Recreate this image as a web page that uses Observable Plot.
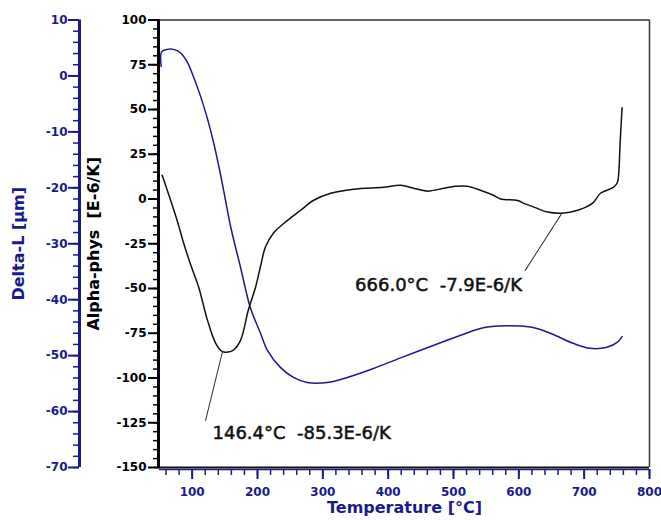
<!DOCTYPE html>
<html><head><meta charset="utf-8">
<script src="https://cdn.jsdelivr.net/npm/d3@7"></script>
<script src="https://cdn.jsdelivr.net/npm/@observablehq/plot@0.6"></script>
<style>
body{margin:0;background:#fff;}
</style></head><body><div id="chart"></div>
<script>
// Alpha-phys curve (black) — temperature [°C] and alpha [E-6/K]
const tempsAlpha = [54, 60, 67, 77, 87, 98, 110, 123.5, 136, 146.4, 155, 163, 174, 186, 197, 205, 212, 224.5, 246, 266, 286, 312, 347, 393, 419, 439, 460, 485, 503, 521, 541, 561, 572, 598, 607, 625, 644, 666, 690, 713, 725, 745, 751, 753, 755, 758];
const alphaValues = [13.3, 7, -0.7, -12, -24.7, -37, -49.3, -67.8, -80.6, -85.3, -85.5, -84.5, -79, -62, -49.3, -37, -27, -19, -11.9, -6.3, -0.7, 3.2, 5.5, 6.6, 7.7, 6, 4.4, 6, 7.1, 7.1, 4.9, 2.1, 0, -0.8, -2.3, -4.8, -7.3, -7.9, -6.3, -2.3, 3.2, 6.6, 9.4, 15, 31, 51];
// Delta-L curve (blue) — temperature [°C] and delta-L [µm]
const tempsDelta = [52.6, 53.2, 61.8, 71.4, 82, 92.4, 102, 113, 123, 133, 143, 151, 159, 174, 189, 204.6, 215, 235, 255, 276, 307, 337.5, 377.5, 419, 469, 510, 552, 618, 648, 683, 709, 735, 751, 758];
const deltaValues = [1.7, 4.3, 4.75, 4.75, 4.15, 2.5, -0.15, -3.7, -7.5, -12, -17.4, -22.2, -27, -34.2, -41.4, -46, -49, -52.1, -53.9, -54.8, -54.8, -53.9, -52.3, -50.4, -48.2, -46.4, -44.9, -44.9, -46, -47.8, -48.7, -48.5, -47.6, -46.6];
// axis ticks
const alphaTicks = [100, 75, 50, 25, 0, -25, -50, -75, -100, -125, -150];
const deltaTicks = [10, 0, -10, -20, -30, -40, -50, -60, -70];
const tempTicks = [100, 200, 300, 400, 500, 600, 700, 800];
// annotations
const annoTemps = [146.4, 666.0];
const annoAlpha = [-85.3, -7.9];
const annoLabels = ["146.4°C\u00a0\u00a0-85.3E-6/K", "666.0°C\u00a0\u00a0-7.9E-6/K"];
// titles
const xTitle = "Temperature [°C]";
const yTitleAlpha = "Alpha-phys\u00a0\u00a0[E-6/K]";
const yTitleDelta = "Delta-L [µm]";

const BLUE = "#1a1a8c";
const toAlpha = d => (d - 10) * 250 / 80 + 100;
const fromAlpha = a => Math.round((a - 100) * 80 / 250 + 10);

const alphaData = tempsAlpha.map((t, i) => ({t, v: alphaValues[i]}));
const deltaData = tempsDelta.map((t, i) => ({t, v: toAlpha(deltaValues[i])}));
const annos = annoTemps.map((t, i) => ({t, a: annoAlpha[i], label: annoLabels[i]}));

const lineShape = {draw(ctx, l) { ctx.moveTo(0, 0); ctx.lineTo(0, -l); }};
const font = "DejaVu Sans, sans-serif";

const plot = Plot.plot({
  width: 661, height: 520,
  marginLeft: 159, marginRight: 12, marginTop: 19.5, marginBottom: 53,
  style: {fontFamily: font, background: "white"},
  x: {domain: [50, 800]},
  y: {domain: [-150, 100]},
  marks: [
    // frame
    Plot.ruleY([100], {stroke: "#333", strokeWidth: 1.5}),
    Plot.ruleX([800], {stroke: "#333", strokeWidth: 1.5}),
    Plot.ruleY([-150], {stroke: "#111", strokeWidth: 2}),
    Plot.ruleY([-150], {stroke: BLUE, strokeWidth: 1.5, dy: 2}),
    // alpha axis (black)
    Plot.ruleX([50], {stroke: "#000", strokeWidth: 3, dx: -1}),
    Plot.axisY(d3.range(-150, 101, 5), {anchor: "left", tickSize: 6, stroke: "#000", strokeWidth: 1.5, fill: "none", label: null}),
    Plot.axisY(alphaTicks, {anchor: "left", tickSize: 11, tickPadding: 2, stroke: "#000", strokeWidth: 2, fill: "#000", fontSize: 12, fontWeight: "bold", tickFormat: d => String(d), label: null}),
    // delta axis (blue)
    Plot.ruleX([50], {stroke: BLUE, strokeWidth: 3, dx: -80}),
    Plot.axisY(d3.range(-70, 11, 2).map(toAlpha), {anchor: "left", dx: -80, tickSize: 6, stroke: BLUE, strokeWidth: 1.5, fill: "none", label: null}),
    Plot.axisY(deltaTicks.map(toAlpha), {anchor: "left", dx: -80, tickSize: 11, tickPadding: 1, stroke: BLUE, strokeWidth: 2, fill: BLUE, fontSize: 12, fontWeight: "bold", tickFormat: a => String(fromAlpha(a)), label: null}),
    // temperature axis (blue)
    Plot.axisX(d3.range(60, 801, 20), {anchor: "bottom", dy: 2, tickSize: 6, stroke: BLUE, strokeWidth: 1.5, fill: "none", label: null}),
    Plot.axisX(tempTicks, {anchor: "bottom", dy: 2, tickSize: 10, tickPadding: 8, stroke: BLUE, strokeWidth: 2, fill: BLUE, fontSize: 12, fontWeight: "bold", tickFormat: d => String(d), label: null}),
    // titles
    Plot.text([yTitleDelta], {frameAnchor: "left", textAnchor: "middle", rotate: -90, dx: -141, fill: BLUE, fontSize: 16, fontWeight: "bold"}),
    Plot.text([yTitleAlpha], {frameAnchor: "left", textAnchor: "middle", rotate: -90, dx: -66, fill: "#000", fontSize: 16, fontWeight: "bold"}),
    Plot.text([xTitle], {frameAnchor: "bottom", dy: 45, fill: BLUE, fontSize: 16, fontWeight: "bold"}),
    // curves
    Plot.line(deltaData, {x: "t", y: "v", stroke: BLUE, strokeWidth: 1.5, curve: "catmull-rom"}),
    Plot.line(alphaData, {x: "t", y: "v", stroke: "#111", strokeWidth: 1.5, curve: "catmull-rom"}),
    // annotation leaders
    Plot.vector([annos[0]], {x: "t", y: "a", length: 71, rotate: 193.8, anchor: "start", shape: lineShape, stroke: "#333", strokeWidth: 1}),
    Plot.vector([annos[1]], {x: "t", y: "a", length: 68, rotate: 212.7, anchor: "start", shape: lineShape, stroke: "#333", strokeWidth: 1}),
    Plot.text([annos[0]], {x: "t", y: "a", text: "label", dx: -10, dy: 82, textAnchor: "start", fontSize: 18, fill: "#111", stroke: "#111", strokeWidth: 0.5}),
    Plot.text([annos[1]], {x: "t", y: "a", text: "label", dx: -40, dy: 72, textAnchor: "end", fontSize: 18, fill: "#111", stroke: "#111", strokeWidth: 0.5})
  ]
});
document.getElementById("chart").appendChild(plot);
</script></body></html>
